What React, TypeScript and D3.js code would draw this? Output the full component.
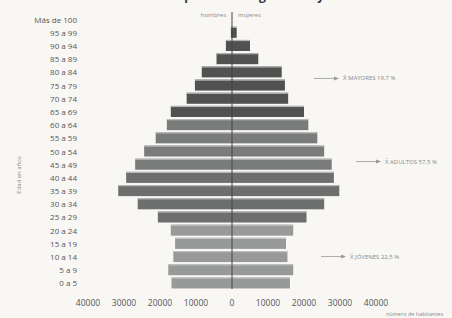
import React from "react";
import * as d3 from "d3";

const ageGroups = [
  "Más de 100", "95 a 99", "90 a 94", "85 a 89", "80 a 84", "75 a 79", "70 a 74",
  "65 a 69", "60 a 64", "55 a 59", "50 a 54", "45 a 49", "40 a 44", "35 a 39",
  "30 a 34", "25 a 29", "20 a 24", "15 a 19", "10 a 14", "5 a 9", "0 a 5",
];
const hombres = [
  0, 300, 1700, 4300, 8400, 10300, 12600,
  17000, 18100, 21200, 24400, 26900, 29400, 31600,
  26200, 20600, 17000, 15800, 16300, 17700, 16800,
];
const mujeres = [
  0, 1300, 5000, 7300, 13800, 14700, 15600,
  20000, 21200, 23700, 25600, 27700, 28300, 29800,
  25600, 20700, 17000, 15000, 15400, 17000, 16100,
];
const grupos = [
  "m", "m", "m", "m", "m", "m", "m",
  "m", "a1", "a1", "a1", "a1", "a2", "a2",
  "a2", "a2", "j", "j", "j", "j", "j",
];
const xTicks = [-40000, -30000, -20000, -10000, 0, 10000, 20000, 30000, 40000];
const annotations = [
  { label: "X̄ MAYORES 19,7 %", age: "80 a 84", shift: 0.5, dx: 82 },
  { label: "X̄ ADULTOS 57,5 %", age: "45 a 49", shift: -0.2, dx: 124 },
  { label: "X̄ JÓVENES 22,5 %", age: "10 a 14", shift: 0, dx: 89 },
];

const colors: Record<string, string> = {
  m: "#505150",
  a1: "#7a7c7b",
  a2: "#6d6f6e",
  j: "#989a99",
};

export default function App() {
  const W = 452, H = 318;
  const x = d3.scaleLinear().domain([-40000, 40000]).range([88, 376]);
  const y = d3.scaleBand<string>().domain(ageGroups).range([12.5, 289.5]).paddingInner(0.16).paddingOuter(0.08);
  const bw = y.bandwidth();
  const step = y.step();
  const fontFam = "'Open Sans', 'DejaVu Sans', sans-serif";
  return (
    <svg width={W} height={H} style={{ position: "absolute", left: 0, top: 0, background: "#f8f7f4" }}>
      <rect width={W} height={H} fill="#f8f7f4" />
      <text x={232} y={-0.5} textAnchor="middle" fontSize={12} fontFamily={fontFam} fontWeight="bold" fill="#333">
        Pirámide de población según edad y sexo
      </text>
      {ageGroups.map((g, i) => {
        const y0 = y(g)!;
        const c = colors[grupos[i]];
        const xl = x(-hombres[i]);
        const xr = x(mujeres[i]);
        return (
          <g key={g}>
            {hombres[i] > 0 && (
              <>
                <rect x={xl} y={y0} width={x(0) - xl} height={bw} fill={c} />
                <rect x={xl} y={y0} width={x(0) - xl} height={1.2} fill="#c9cac9" opacity={0.8} />
              </>
            )}
            {mujeres[i] > 0 && (
              <>
                <rect x={x(0)} y={y0} width={xr - x(0)} height={bw} fill={c} />
                <rect x={x(0)} y={y0} width={xr - x(0)} height={1.2} fill="#c9cac9" opacity={0.8} />
              </>
            )}
            <text x={77} y={y0 + bw / 2} textAnchor="end" dominantBaseline="central" fontSize={8} fontFamily={fontFam} fill="#555">
              {g}
            </text>
          </g>
        );
      })}
      <line x1={x(0)} x2={x(0)} y1={12} y2={289} stroke="#454545" strokeWidth={1} />
      <text x={x(0) - 6} y={17} textAnchor="end" fontSize={6} fontFamily={fontFam} fill="#888">hombres</text>
      <text x={x(0) + 6} y={17} textAnchor="start" fontSize={6} fontFamily={fontFam} fill="#888">mujeres</text>
      {xTicks.map((t) => (
        <text key={t} x={x(t)} y={306} textAnchor="middle" fontSize={8.5} fontFamily={fontFam} fill="#555">
          {Math.abs(t)}
        </text>
      ))}
      <text x={386} y={316} fontSize={5.5} fontFamily={fontFam} fill="#888">número de habitantes</text>
      <text transform={`translate(21,175) rotate(-90)`} textAnchor="middle" fontSize={6} fontFamily={fontFam} fill="#888">
        Edad en años
      </text>
      {annotations.map((a) => {
        const yc = y(a.age)! + bw / 2 + a.shift * step;
        const x0 = x(0) + a.dx;
        return (
          <g key={a.label}>
            <line x1={x0} x2={x0 + 22} y1={yc} y2={yc} stroke="#999" strokeWidth={0.8} />
            <path d={`M${x0 + 25},${yc} L${x0 + 20},${yc - 2} L${x0 + 20},${yc + 2} Z`} fill="#999" />
            <text x={x0 + 29} y={yc} dominantBaseline="central" fontSize={6} fontFamily={fontFam} fill="#888">
              {a.label}
            </text>
          </g>
        );
      })}
    </svg>
  );
}
